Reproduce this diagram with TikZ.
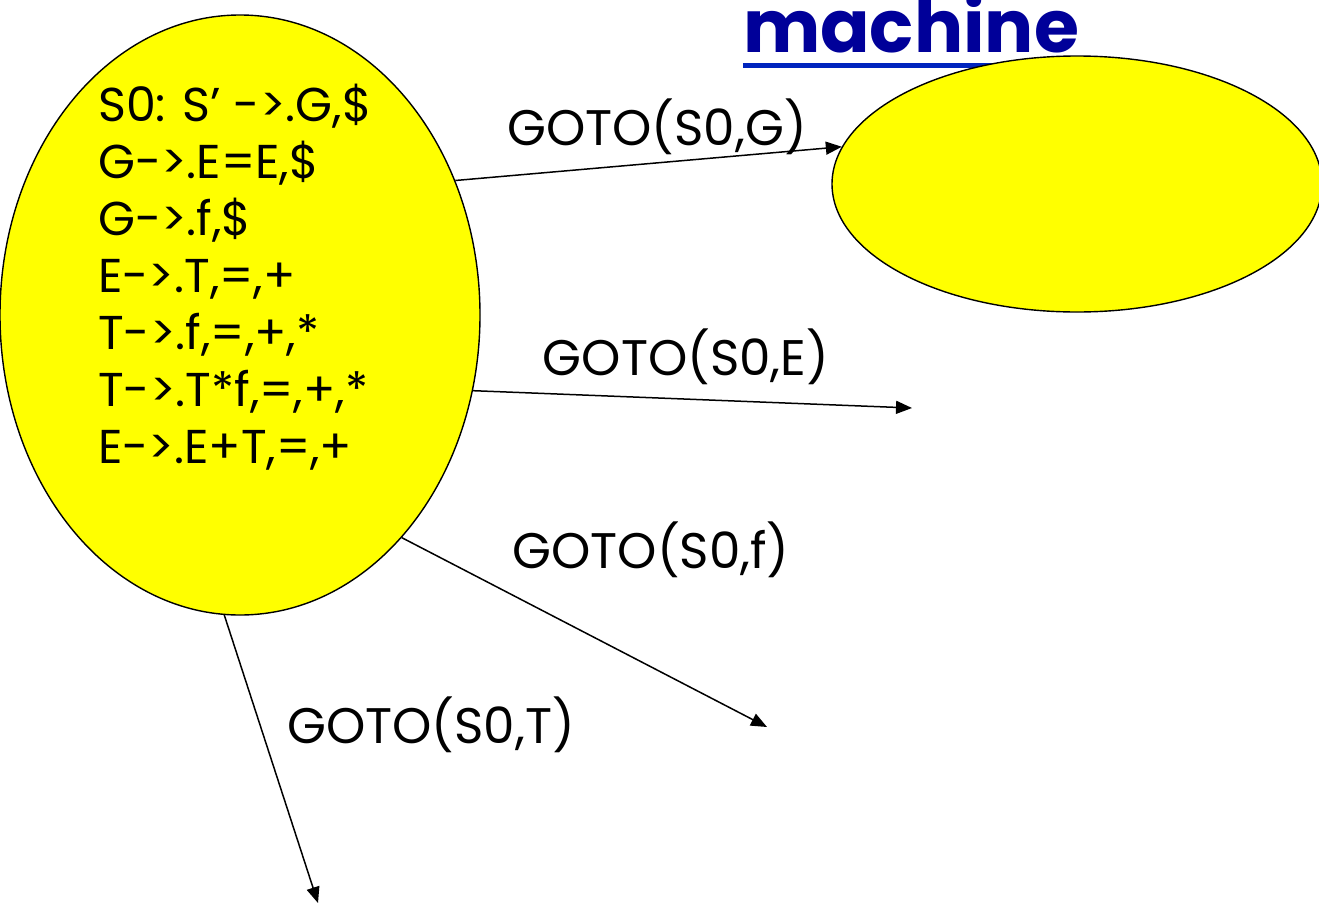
\documentclass[tikz,border=0pt]{standalone}
\usepackage{fontspec}
\setmainfont{Poppins}
\usetikzlibrary{shapes.geometric,arrows.meta}
\definecolor{titleblue}{RGB}{0,0,153}
\definecolor{ulblue}{RGB}{0,36,190}
\definecolor{stateyellow}{RGB}{255,255,0}
\begin{document}
\begin{tikzpicture}[x=1pt,y=-1pt,
  state/.style={ellipse,draw=black,line width=1.4pt,fill=stateyellow,inner sep=0pt},
  edge/.style={line width=1.5pt,-{Triangle[length=16pt,width=13pt]}},
  lbl/.style={font=\fontsize{50}{60}\selectfont,anchor=base,inner sep=0pt},
  items/.style={font=\fontsize{47.5}{57}\selectfont,align=left,anchor=north west,inner sep=0pt}]
\useasboundingbox (0,0) rectangle (1319,905);
\node[font=\bfseries\fontsize{73}{80}\selectfont,text=titleblue,anchor=base,inner sep=0pt] (title) at (911,52) {machine};
\draw[ulblue,line width=5pt] ([yshift=-13pt]title.base west) -- ([yshift=-13pt]title.base east);
\node[state,minimum width=480,minimum height=600] (S0) at (240,315) {};
\node[state,minimum width=490,minimum height=256] (S1) at (1077,184) {};
\node[items] (items) at (98,84) {S0: S’ ->.G,\$\\G->.E=E,\$\\G->.f,\$\\E->.T,=,+\\T->.f,=,+,*\\T->.T*f,=,+,*\\E->.E+T,=,+};
\coordinate (tE) at (912,408);
\coordinate (tf) at (767,727);
\coordinate (tT) at (318,903);
\draw[edge] (S0.32) -- (S1.171);
\draw[edge] (S0.-18) -- (tE);
\draw[edge] (S0.-54) -- (tf);
\draw[edge] (S0.-93) -- (tT);
\node[lbl] (gG) at (657,145) {GOTO(S0,G)};
\node[lbl] (gE) at (686,375) {GOTO(S0,E)};
\node[lbl] (gf) at (651,568) {GOTO(S0,f)};
\node[lbl] (gT) at (431,743) {GOTO(S0,T)};
\end{tikzpicture}
\end{document}
